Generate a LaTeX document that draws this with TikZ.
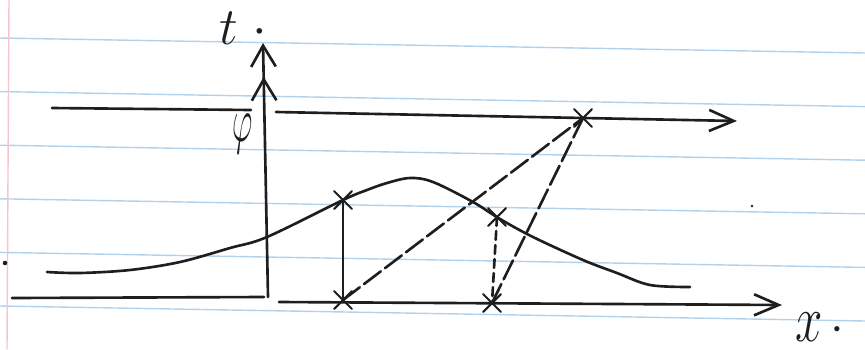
\documentclass[tikz,border=0pt]{standalone}
\usepackage{fix-cm}
\usepackage{amsmath}
\usepackage{amssymb}
\usepackage{graphicx}
\usepackage{tikz}
\usetikzlibrary{arrows.meta,shapes.misc}
\definecolor{ink}{RGB}{30,30,30}
\definecolor{ruling}{RGB}{178,210,236}
\definecolor{margin}{RGB}{246,196,206}

\begin{document}
\begin{tikzpicture}[x=0.02cm,y=-0.02cm,line width=1.5pt,line cap=round,ink,
>={Straight Barb[length=14pt,width=12pt]},
xmark/.style={cross out,draw,line width=1.2pt,minimum size=9pt,inner sep=0pt},
longdash/.style={dash pattern=on 12pt off 3pt},
shortdash/.style={dash pattern=on 5pt off 3pt}]
\useasboundingbox (0,0) rectangle (865,349);
\foreach \k in {0,...,5}
  \draw[ruling,line width=0.8pt] (0,38+53.6*\k)--(865,53+53.6*\k);
\draw[margin,line width=0.8pt](9,0)--(7,349);
\coordinate (tb) at (268,297);
\coordinate (tt) at (263,43);
\coordinate (xl) at (12,298);
\coordinate (xm) at (264,297);
\coordinate (xs) at (279,302);
\coordinate (xe) at (782,305);
\coordinate (ul) at (52,108);
\coordinate (um) at (251,110);
\coordinate (us) at (276,112);
\coordinate (ue) at (737,121);
\node[xmark] (a0) at (343,300) {};
\node[xmark] (a1) at (343,200) {};
\node[xmark] (b0) at (492,303) {};
\node[xmark] (b1) at (497,217) {};
\node[xmark] (c) at (583,118) {};
\draw[-{Straight Barb[length=12pt,width=14pt,sep=5pt]Straight Barb[length=12pt,width=14pt]}](tb)--(tt);
\draw(xl)--(xm);
\draw[->](xs)--(xe);
\draw(ul)--(um);
\draw[->](us)--(ue);
\draw plot[smooth,tension=0.55] coordinates {(47,272) (80,273) (130,270) (180,262) (230,248) (267,237)
  (343,200) (367,190) (387,183) (410,178) (433,182) (473,202) (500,219) (533,237) (583,260) (617,273) (650,285) (690,287)};
\draw(a1.center)--(a0.center);
\draw[longdash](a0.center)--(c.center);
\draw[shortdash](b1.center)--(b0.center);
\draw[longdash](b0.center)--(c.center);
\fill(5,263)circle(1.3pt)
(752,206)circle(0.8pt);
\node[font=\fontsize{30}{34}\selectfont,anchor=base west,inner sep=0pt] (tlab) at (218,44) {$t\;\cdot$};
\node[font=\fontsize{36}{40}\selectfont] (philab) at (243,134) {\scalebox{0.5}[1]{$\varphi$}};
\node[font=\fontsize{28}{32}\selectfont,anchor=base west,inner sep=0pt] (xlab) at (794,341) {\scalebox{1}[1.35]{$x$}\,$\cdot$};
\end{tikzpicture}
\end{document}
